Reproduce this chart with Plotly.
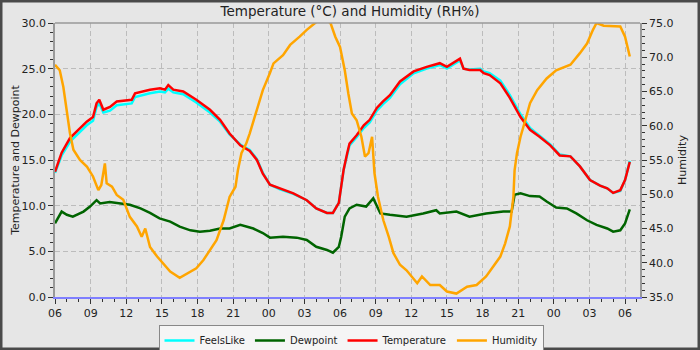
import pandas as pd
import plotly.graph_objects as go

BASE = pd.Timestamp("2024-05-01 06:00")

# hours after 06:00 on the first day
temp_hours = [0, 0.56, 1.26, 2.1, 2.67, 3.2, 3.5, 3.73, 4.07, 4.63, 5.2, 6.46, 6.74, 8.0, 8.84, 9.26,
              9.54, 9.96, 10.8, 11.9, 13.05, 13.9, 14.7, 15.6, 16.4, 17.0, 17.5, 18.1, 18.95, 20.07,
              21.2, 22.0, 22.9, 23.4, 23.9, 24.3, 24.6, 24.8, 25.4, 26.0, 26.5, 27.1, 27.6, 28.2,
              29.05, 30.2, 31.3, 32.4, 33.0, 33.5, 34.1, 34.4, 34.9, 35.8, 36.1, 36.6, 37.5, 38.3,
              39.2, 40.0, 40.8, 41.7, 42.5, 43.4, 44.2, 45.05, 45.9, 46.5, 47.0, 47.6, 48.0, 48.4]
temperature = [13.7, 15.8, 17.4, 18.5, 19.2, 19.7, 21.2, 21.6, 20.5, 20.8, 21.4, 21.6, 22.3, 22.7, 22.85,
               22.7, 23.2, 22.7, 22.5, 21.6, 20.5, 19.4, 17.9, 16.6, 16.0, 15.0, 13.5, 12.3, 11.9, 11.35,
               10.6, 9.7, 9.2, 9.2, 10.3, 13.9, 15.7, 16.8, 17.7, 18.8, 19.4, 20.7, 21.4, 22.1, 23.6,
               24.7, 25.2, 25.6, 25.2, 25.6, 26.1, 25.0, 24.85, 24.85, 24.5, 24.3, 23.4, 21.8, 19.7,
               18.3, 17.55, 16.6, 15.5, 15.4, 14.3, 12.8, 12.2, 11.9, 11.4, 11.7, 12.8, 14.8]
feelslike = [13.6, 15.5, 17.0, 18.1, 18.8, 19.3, 20.8, 21.2, 20.2, 20.4, 21.0, 21.2, 21.9, 22.3, 22.5,
             22.4, 22.8, 22.4, 22.2, 21.3, 20.2, 19.2, 17.8, 16.7, 16.1, 15.1, 13.6, 12.3, 11.8, 11.3,
             10.6, 9.7, 9.2, 9.2, 10.3, 13.9, 15.6, 16.6, 17.5, 18.5, 19.1, 20.4, 21.1, 21.8, 23.3,
             24.5, 25.0, 25.4, 25.0, 25.4, 25.9, 25.0, 24.9, 25.0, 24.7, 24.5, 23.7, 22.1, 20.0,
             18.5, 17.7, 16.7, 15.6, 15.4, 14.3, 12.8, 12.2, 11.9, 11.4, 11.6, 12.8, 14.9]

dew_hours = [0, 0.56, 1.0, 1.5, 2.4, 2.95, 3.5, 3.8, 4.6, 5.5, 6.3, 7.2, 8.0, 8.8, 9.7, 10.5, 11.4,
             12.2, 13.05, 13.9, 14.7, 15.6, 16.7, 17.5, 18.1, 19.2, 20.35, 21.2, 22.0, 22.9, 23.4,
             23.9, 24.1, 24.4, 24.8, 25.4, 26.2, 26.8, 27.1, 27.4, 28.2, 29.6, 31.0, 32.1, 32.4,
             33.8, 34.9, 36.3, 37.75, 38.45, 38.7, 39.2, 40.0, 40.8, 41.4, 42.2, 43.1, 43.9, 44.8,
             45.6, 46.5, 47.0, 47.6, 48.0, 48.4]
dewpoint = [8.07, 9.35, 9.0, 8.8, 9.35, 9.9, 10.6, 10.25, 10.4, 10.25, 10.1, 9.7, 9.2, 8.6, 8.25, 7.7,
            7.3, 7.15, 7.25, 7.5, 7.5, 7.9, 7.5, 7.0, 6.5, 6.6, 6.5, 6.25, 5.5, 5.15, 4.85, 5.5, 6.6,
            8.8, 9.7, 10.1, 9.9, 10.8, 9.9, 9.15, 9.0, 8.8, 9.15, 9.5, 9.15, 9.35, 8.8, 9.15, 9.35,
            9.35, 11.2, 11.35, 11.05, 11.0, 10.45, 9.8, 9.7, 9.15, 8.4, 7.9, 7.5, 7.15, 7.3, 8.05, 9.6]

hum_hours = [0, 0.4, 0.7, 1.0, 1.26, 1.55, 2.1, 2.7, 3.2, 3.65, 3.9, 4.2, 4.35, 4.8, 5.2, 5.75, 6.3,
             6.9, 7.3, 7.6, 8.0, 8.6, 9.1, 9.7, 10.5, 11.4, 11.9, 12.5, 13.05, 13.6, 14.2, 14.7, 15.2,
             15.4, 15.7, 16.1, 16.4, 17.0, 17.5, 18.1, 18.4, 19.2, 19.8, 20.6, 21.2, 21.9, 22.5, 23.2,
             23.6, 24.0, 24.4, 24.7, 25.0, 25.4, 25.8, 26.1, 26.4, 26.7, 26.9, 27.2, 27.65, 28.1, 28.5,
             29.05, 29.6, 30.5, 30.9, 31.6, 32.4, 33.0, 33.8, 34.7, 35.5, 36.3, 36.9, 37.5, 37.9, 38.3,
             38.6, 38.7, 38.9, 39.2, 39.6, 40.0, 40.6, 41.4, 42.2, 43.4, 44.2, 44.8, 45.3, 45.6, 46.2,
             47.6, 48.0, 48.4]
humidity = [68.9, 68.1, 65.7, 62.3, 58.9, 56.5, 55.0, 54.0, 52.6, 50.6, 51.35, 54.5, 51.6, 51.1, 49.9,
            49.2, 46.7, 45.3, 43.8, 45.0, 42.3, 40.9, 39.9, 38.7, 37.8, 38.7, 39.2, 40.4, 41.9, 43.3,
            46.2, 49.6, 51.1, 53.5, 56.0, 57.4, 58.9, 62.3, 65.2, 67.7, 69.1, 70.3, 71.8, 73.0, 74.0,
            75.0, 75.8, 75.0, 73.0, 71.5, 68.1, 64.7, 61.8, 60.8, 58.4, 55.5, 56.0, 58.4, 53.1, 49.6,
            46.2, 43.8, 41.4, 39.7, 38.9, 37.0, 38.0, 36.75, 36.75, 35.8, 35.5, 36.5, 36.75, 38.0,
            39.4, 40.9, 42.8, 45.3, 49.6, 53.5, 56.0, 58.4, 60.8, 63.3, 65.2, 66.9, 68.1, 68.9, 70.6,
            72.0, 74.0, 75.0, 74.6, 74.5, 73.0, 70.1]


def to_time(hours):
    return [BASE + pd.Timedelta(hours=h) for h in hours]


fig = go.Figure()
fig.add_trace(go.Scatter(x=to_time(temp_hours), y=feelslike, name="FeelsLike", mode="lines",
                         line=dict(color="#00ffff", width=2.5)))
fig.add_trace(go.Scatter(x=to_time(dew_hours), y=dewpoint, name="Dewpoint", mode="lines",
                         line=dict(color="#006400", width=2.5)))
fig.add_trace(go.Scatter(x=to_time(temp_hours), y=temperature, name="Temperature", mode="lines",
                         line=dict(color="#ff0000", width=2.5)))
fig.add_trace(go.Scatter(x=to_time(hum_hours), y=humidity, name="Humidity", mode="lines", yaxis="y2",
                         line=dict(color="#ffa500", width=2.5)))

W, H = 700, 350
ML, MR, MT, MB = 55, 60, 23, 53
pw, ph = W - ML - MR, H - MT - MB
font = "DejaVu Sans, sans-serif"

fig.update_layout(
    width=W, height=H,
    margin=dict(l=ML, r=MR, t=MT, b=MB, pad=0, autoexpand=False),
    paper_bgcolor="#e6e6e6", plot_bgcolor="#e6e6e6",
    font=dict(family=font, size=11, color="#222"),
    title=dict(text="Temperature (°C) and Humidity (RH%)", x=0.5, xanchor="center",
               y=1 - 11 / H, yanchor="middle", font=dict(size=13.5, color="#222")),
    showlegend=True,
    legend=dict(orientation="h", xref="container", yref="container",
                x=351 / W, xanchor="center", y=(H - 325) / H, yanchor="top",
                bgcolor="#f5f5f5", bordercolor="#888", borderwidth=1,
                font=dict(size=10), itemwidth=30, tracegroupgap=0),
    xaxis=dict(
        type="date",
        range=[BASE, BASE + pd.Timedelta(hours=49.26)],
        tick0=BASE, dtick=3 * 3600 * 1000, tickformat="%H",
        ticks="outside", ticklen=5, tickcolor="#333",
        minor=dict(dtick=3600 * 1000, ticks="outside", ticklen=3, tickcolor="#333", showgrid=False),
        showgrid=True, gridcolor="#bcbcbc", griddash="5px,3px", gridwidth=1,
        showline=True, linecolor="#7f7fff", linewidth=2,
        zeroline=False, tickfont=dict(size=11),
    ),
    yaxis=dict(
        range=[0, 30], dtick=5, tick0=0, tickformat=".1f",
        ticks="outside", ticklen=5, tickcolor="#333",
        minor=dict(dtick=1, ticks="outside", ticklen=3, tickcolor="#333", showgrid=False),
        showgrid=True, gridcolor="#bcbcbc", griddash="5px,3px", gridwidth=1,
        showline=True, linecolor="#999", linewidth=1.5, zeroline=False,
        title=dict(text="Temperature and Dewpoint", font=dict(size=11), standoff=0),
        tickfont=dict(size=11),
    ),
    yaxis2=dict(
        overlaying="y", side="right",
        range=[35, 75], dtick=5, tick0=35, tickformat=".1f",
        ticks="outside", ticklen=5, tickcolor="#333",
        minor=dict(dtick=1, ticks="outside", ticklen=3, tickcolor="#333", showgrid=False),
        showgrid=False, showline=True, linecolor="#999", linewidth=1.5, zeroline=False,
        title=dict(text="Humidity", font=dict(size=11), standoff=6),
        tickfont=dict(size=11),
    ),
    shapes=[
        dict(type="line", xref="paper", yref="paper", x0=0, x1=1, y0=1, y1=1,
             line=dict(color="#999", width=1.5)),
        dict(type="rect", xref="paper", yref="paper",
             x0=-ML / pw, x1=1 + MR / pw, y0=-MB / ph, y1=1 + MT / ph,
             line=dict(color="#4a4a4a", width=5), fillcolor="rgba(0,0,0,0)", layer="above"),
    ],
)

fig.write_html("out.html")
